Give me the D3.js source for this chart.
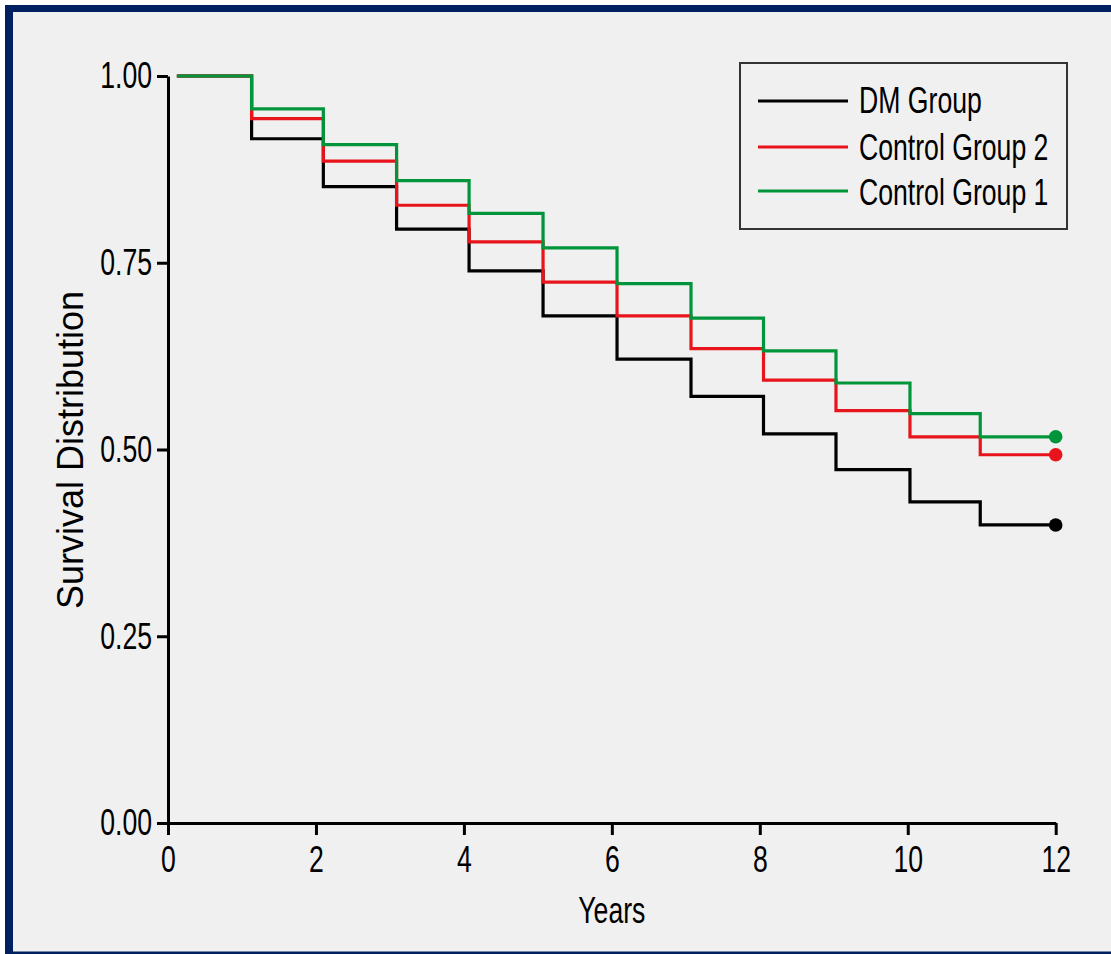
<!DOCTYPE html>
<html>
<head>
<meta charset="utf-8">
<script src="https://cdn.jsdelivr.net/npm/d3@7"></script>
<style>
  html, body { margin: 0; padding: 0; background: #ffffff; }
  svg { display: block; }
</style>
</head>
<body>
<svg id="chart" width="1111" height="954"></svg>
<script>
// ---- data ----
const times = [0.12, 1.13, 2.10, 3.09, 4.07, 5.07, 6.07, 7.07, 8.05, 9.03, 10.03, 10.98];
const endTime = 12;
const dmGroup       = [1.00, 0.916, 0.852, 0.795, 0.739, 0.679, 0.621, 0.571, 0.521, 0.473, 0.430, 0.399];
const controlGroup2 = [1.00, 0.943, 0.886, 0.827, 0.778, 0.724, 0.679, 0.635, 0.593, 0.552, 0.517, 0.493];
const controlGroup1 = [1.00, 0.956, 0.908, 0.860, 0.816, 0.770, 0.722, 0.676, 0.632, 0.589, 0.548, 0.517];
const seriesNames  = ["DM Group", "Control Group 2", "Control Group 1"];
const seriesColors = ["#000000", "#e8141b", "#00953a"];
const xTicks = [0, 2, 4, 6, 8, 10, 12];
const yTicks = [0, 0.25, 0.5, 0.75, 1.0];

const svg = d3.select("#chart");
const condensed = "'Liberation Sans', Arial, sans-serif";
const SX = 0.72;

// frame
svg.append("rect").attr("x", 5).attr("y", 5).attr("width", 1106).attr("height", 949).attr("fill", "#00205f");
svg.append("rect").attr("x", 13).attr("y", 12).attr("width", 1098).attr("height", 939.5).attr("fill", "#f0f0f0");

const x = d3.scaleLinear().domain([0, 12]).range([168, 1055.7]);
const y = d3.scaleLinear().domain([0, 1]).range([823, 76]);

function condenseTicks(sel) {
  sel.selectAll(".tick text").each(function () {
    const t = d3.select(this);
    const xv = +t.attr("x") || 0;
    t.attr("x", xv / SX).attr("transform", `scale(${SX},1)`);
  });
}

// axes
const gx = svg.append("g").attr("transform", `translate(0,${y(0)})`)
  .call(d3.axisBottom(x).tickValues(xTicks).tickFormat(d3.format("d")).tickSize(12).tickSizeOuter(0).tickPadding(11));
const gy = svg.append("g").attr("transform", `translate(${x(0)},0)`)
  .call(d3.axisLeft(y).tickValues(yTicks).tickFormat(d3.format(".2f")).tickSize(11).tickSizeOuter(0).tickPadding(5));
[gx, gy].forEach(g => {
  g.select(".domain").attr("stroke", "#000").attr("stroke-width", 3);
  g.selectAll(".tick line").attr("stroke", "#000").attr("stroke-width", 3);
  g.selectAll(".tick text").attr("fill", "#000").attr("font-family", condensed).attr("font-size", 37);
  condenseTicks(g);
});

// step lines
const allSeries = [dmGroup, controlGroup2, controlGroup1];
const line = d3.line().x(d => x(d[0])).y(d => y(d[1])).curve(d3.curveStepAfter);
allSeries.forEach((vals, i) => {
  const pts = times.map((t, j) => [t, vals[j]]);
  pts.push([endTime, vals[vals.length - 1]]);
  svg.append("path").datum(pts)
    .attr("fill", "none").attr("stroke", seriesColors[i]).attr("stroke-width", 3.2)
    .attr("d", line);
  svg.append("circle")
    .attr("cx", x(endTime)).attr("cy", y(vals[vals.length - 1])).attr("r", 6.8)
    .attr("fill", seriesColors[i]);
});

// axis titles
svg.append("text")
  .attr("transform", `translate(${x(6)},923) scale(${SX},1)`)
  .attr("text-anchor", "middle").attr("font-family", condensed).attr("font-size", 37)
  .attr("fill", "#000").text("Years");
svg.append("text")
  .attr("transform", "translate(83,450) rotate(-90)")
  .attr("text-anchor", "middle").attr("font-family", "'Liberation Sans', Arial, sans-serif").attr("font-size", 36)
  .attr("fill", "#000").text("Survival Distribution");

// legend
svg.append("rect").attr("x", 740).attr("y", 63).attr("width", 327).attr("height", 166)
  .attr("fill", "none").attr("stroke", "#333").attr("stroke-width", 2);
const legendY = [101, 147, 191];
const legendBase = [113, 160, 205];
seriesNames.forEach((name, i) => {
  svg.append("line").attr("x1", 758).attr("x2", 848).attr("y1", legendY[i]).attr("y2", legendY[i])
    .attr("stroke", seriesColors[i]).attr("stroke-width", 3.2);
  svg.append("text")
    .attr("transform", `translate(859,${legendBase[i]}) scale(${SX},1)`)
    .attr("font-family", condensed).attr("font-size", 37).attr("fill", "#000").text(name);
});
</script>
</body>
</html>
